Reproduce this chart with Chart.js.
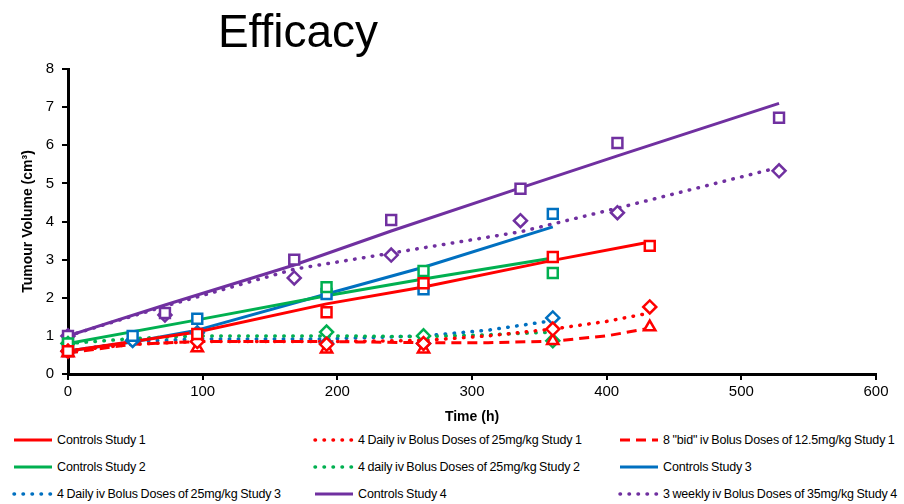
<!DOCTYPE html>
<html>
<head>
<meta charset="utf-8">
<script src="https://cdn.jsdelivr.net/npm/chart.js@4.4.1/dist/chart.umd.min.js"></script>
<style>
    body { margin: 0; background: #fff; font-family: "Liberation Sans", Arial, sans-serif; color: #000; }
    #wrap { position: relative; width: 904px; height: 504px; overflow: hidden; }
    #chart-box { position: absolute; left: 0; top: 0; width: 904px; height: 430px; }
    #title { position: absolute; left: 0; top: 8px; width: 596px; text-align: center; font-size: 46px; line-height: 46px; }
    .item { position: absolute; height: 20px; display: flex; align-items: center; font-size: 12.5px; white-space: nowrap;
            letter-spacing: -0.15px; word-spacing: -0.7px; }
    .item svg { margin-right: 3px; }
</style>
</head>
<body>
<div id="wrap">
    <div id="chart-box"><canvas id="efficacyChart"></canvas></div>
    <div id="title">Efficacy</div>
    <div id="legend"></div>
</div>
<script>
// Study 1 (observed)
const study1Times = [0, 96, 192, 264, 360, 432];
const controls1Obs = [0.6, 1.05, 1.62, 2.38, 3.07, 3.36];
const daily1Obs = [0.6, 0.85, 0.78, 0.8, 1.18, 1.76];
const bid1Obs = [0.55, 0.68, 0.65, 0.65, 0.87, 1.23];

// Study 2 (observed)
const study2Times = [0, 192, 264, 360];
const controls2Obs = [0.8, 2.28, 2.7, 2.65];
const daily2Obs = [0.8, 1.1, 1.0, 0.87];

// Study 3 (observed)
const study3Times = [0, 48, 96, 192, 264, 360];
const controls3Obs = [0.6, 1.0, 1.45, 2.1, 2.22, 4.2];
const daily3Obs = [0.6, 0.88, 1.08, 0.8, 0.8, 1.47];

// Study 4 (observed)
const study4Times = [0, 72, 168, 240, 336, 408, 528];
const controls4Obs = [1.0, 1.6, 3.0, 4.04, 4.86, 6.06, 6.72];
const weekly4Obs = [1.0, 1.55, 2.52, 3.12, 4.02, 4.23, 5.33];

// Model curves
const controls1Fit = [0.6, 1.1, 1.84, 2.28, 2.98, 3.46];
const treat1Times = [0, 48, 96, 192, 264, 312, 360, 400, 432];
const daily1Fit = [0.6, 0.78, 0.85, 0.85, 0.88, 1.0, 1.18, 1.38, 1.6];
const bid1Fit = [0.55, 0.78, 0.85, 0.85, 0.82, 0.82, 0.86, 1.0, 1.2];
const controls2Times = [0, 96, 192, 264, 360];
const controls2Fit = [0.8, 1.42, 2.05, 2.49, 3.04];
const treat23Times = [0, 48, 96, 192, 264, 312, 360];
const daily2Fit = [0.8, 0.93, 1.0, 1.0, 0.98, 1.03, 1.1];
const controls3Fit = [0.6, 0.84, 1.15, 2.1, 2.8, 3.86];
const daily3Fit = [0.6, 0.85, 0.92, 0.92, 1.0, 1.15, 1.4];
const controls4Fit = [1.0, 1.81, 2.86, 3.75, 4.88, 5.72, 7.1];
const weekly4Fit = [1.0, 1.78, 2.75, 3.17, 3.73, 4.35, 5.42];

const xTicks = [0, 100, 200, 300, 400, 500, 600];
const yTicks = [0, 1, 2, 3, 4, 5, 6, 7, 8];

const RED = "#FF0000", GREEN = "#00B050", BLUE = "#0070C0", PURPLE = "#7030A0";
const SOLID = [], DOTTED = [0.5, 8.5], DASHED = [10, 6];

function pts(times, vals) {
    return times.map((t, i) => ({ x: t, y: vals[i] }));
}

// fitted line, shown in legend
function fitLine(label, times, vals, color, dash) {
    return {
        label: label,
        data: pts(times, vals),
        showLine: true,
        borderColor: color,
        borderWidth: dash === DOTTED ? 3.5 : 3,
        borderDash: dash,
        borderCapStyle: dash === DOTTED ? "round" : "butt",
        pointRadius: 0,
        fill: false,
        order: 2,
        isFit: true
    };
}

// observed markers
const markerSize = { rect: 7, rectRot: 6.5, triangle: 6.5 };

function obsPoints(times, vals, color, style) {
    return {
        label: "",
        data: pts(times, vals),
        showLine: false,
        pointStyle: style,
        pointRadius: markerSize[style],
        pointBorderWidth: 2.5,
        pointBorderColor: color,
        pointBackgroundColor: "#fff",
        clip: false,
        order: 1
    };
}

const datasets = [
    fitLine("Controls Study 1", study1Times, controls1Fit, RED, SOLID),
    fitLine("4 Daily iv Bolus Doses of 25mg/kg Study 1", treat1Times, daily1Fit, RED, DOTTED),
    fitLine("8 \"bid\" iv Bolus Doses of 12.5mg/kg Study 1", treat1Times, bid1Fit, RED, DASHED),
    fitLine("Controls Study 2", controls2Times, controls2Fit, GREEN, SOLID),
    fitLine("4 daily iv Bolus Doses of 25mg/kg Study 2", treat23Times, daily2Fit, GREEN, DOTTED),
    fitLine("Controls Study 3", study3Times, controls3Fit, BLUE, SOLID),
    fitLine("4 Daily iv Bolus Doses of 25mg/kg Study 3", treat23Times, daily3Fit, BLUE, DOTTED),
    fitLine("Controls Study 4", study4Times, controls4Fit, PURPLE, SOLID),
    fitLine("3 weekly iv Bolus Doses of 35mg/kg Study 4", study4Times, weekly4Fit, PURPLE, DOTTED),
    obsPoints(study1Times, controls1Obs, RED, "rect"),
    obsPoints(study1Times, daily1Obs, RED, "rectRot"),
    obsPoints(study1Times, bid1Obs, RED, "triangle"),
    obsPoints(study2Times, controls2Obs, GREEN, "rect"),
    obsPoints(study2Times, daily2Obs, GREEN, "rectRot"),
    obsPoints(study3Times, controls3Obs, BLUE, "rect"),
    obsPoints(study3Times, daily3Obs, BLUE, "rectRot"),
    obsPoints(study4Times, controls4Obs, PURPLE, "rect"),
    obsPoints(study4Times, weekly4Obs, PURPLE, "rectRot")
];

document.addEventListener("DOMContentLoaded", () => {
    const ctx = document.getElementById("efficacyChart").getContext("2d");
    new Chart(ctx, {
        type: "scatter",
        data: { datasets: datasets },
        options: {
            responsive: true,
            maintainAspectRatio: false,
            animation: false,
            events: [],
            layout: { padding: { left: 0, right: 28, top: 69, bottom: 0 } },
            plugins: { legend: { display: false }, tooltip: { enabled: false }, title: { display: false } },
            scales: {
                x: {
                    type: "linear",
                    min: xTicks[0],
                    max: xTicks[xTicks.length - 1],
                    afterBuildTicks: s => { s.ticks = xTicks.map(v => ({ value: v })); },
                    afterFit: s => { s.height = 56; },
                    border: { display: true, color: "#000", width: 3 },
                    grid: { drawOnChartArea: false, drawTicks: true, tickLength: 6, color: "#000", lineWidth: 2 },
                    ticks: { color: "#000", font: { size: 15 }, padding: 3, maxRotation: 0 },
                    title: { display: true, text: "Time (h)", color: "#000", font: { size: 14, weight: "bold" }, padding: { top: 2, bottom: 4 } }
                },
                y: {
                    type: "linear",
                    min: yTicks[0],
                    max: yTicks[yTicks.length - 1],
                    afterBuildTicks: s => { s.ticks = yTicks.map(v => ({ value: v })); },
                    afterFit: s => { s.width = 68; },
                    border: { display: true, color: "#000", width: 3 },
                    grid: { drawOnChartArea: false, drawTicks: true, tickLength: 6, color: "#000", lineWidth: 2 },
                    ticks: { color: "#000", font: { size: 15 }, padding: 8 },
                    title: { display: true, text: "Tumour Volume (cm³)", color: "#000", font: { size: 14, weight: "bold" }, padding: { top: 20, bottom: 0 } }
                }
            }
        }
    });

    buildLegend(datasets.filter(d => d.isFit));
});

// 3-column legend under the chart
function buildLegend(fits) {
    const legend = document.getElementById("legend");
    const colX = [12, 313, 618];
    const rowY = [430, 457, 484];
    fits.forEach((d, i) => {
        const item = document.createElement("div");
        item.className = "item";
        item.style.left = colX[i % 3] + "px";
        item.style.top = rowY[Math.floor(i / 3)] + "px";
        const dash = d.borderDash.length ? `stroke-dasharray="${d.borderDash.join(" ")}"` : "";
        item.innerHTML = `
            <svg width="42" height="8"><line x1="2" y1="4" x2="40" y2="4" stroke="${d.borderColor}"
                stroke-width="${d.borderWidth}" stroke-linecap="${d.borderCapStyle}" ${dash}/></svg>
            <span>${d.label}</span>`;
        legend.appendChild(item);
    });
}
</script>
</body>
</html>
